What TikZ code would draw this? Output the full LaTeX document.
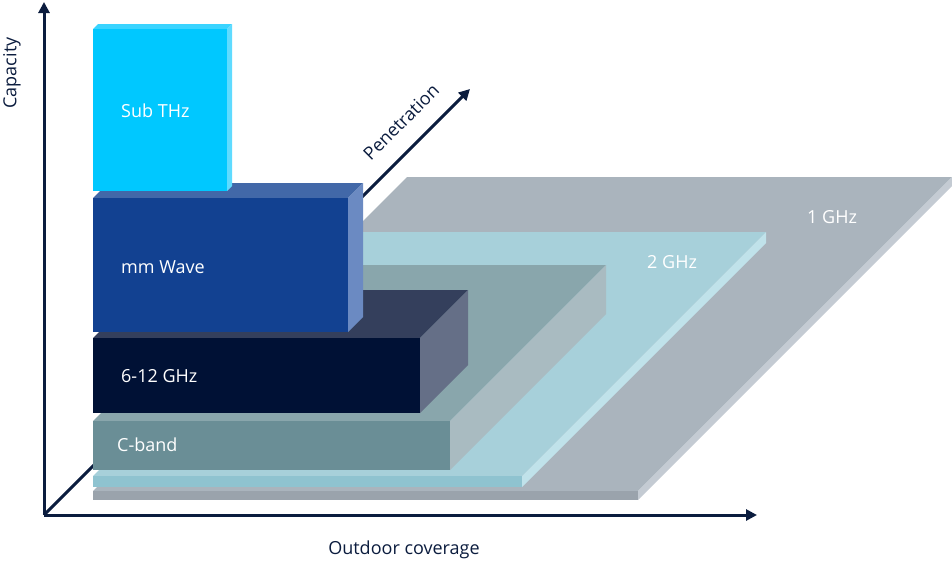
\documentclass[tikz,border=0pt]{standalone}
\usepackage{fontspec}
\setmainfont{Open Sans}
\usetikzlibrary{arrows.meta}
\definecolor{axiscol}{HTML}{0B1C3E}
\definecolor{gTop}{HTML}{AAB4BD}
\definecolor{gFront}{HTML}{9AA3AC}
\definecolor{gSide}{HTML}{C4CBD3}
\definecolor{tTop}{HTML}{A7D0DA}
\definecolor{tFront}{HTML}{8FC3D0}
\definecolor{tSide}{HTML}{C0E2EA}
\definecolor{cTop}{HTML}{89A6AC}
\definecolor{cFront}{HTML}{6A8E96}
\definecolor{cSide}{HTML}{A9BBC1}
\definecolor{sTop}{HTML}{343F5C}
\definecolor{sFront}{HTML}{001135}
\definecolor{sSide}{HTML}{656F87}
\definecolor{mTop}{HTML}{4268A8}
\definecolor{mFront}{HTML}{124191}
\definecolor{mSide}{HTML}{6B8AC2}
\definecolor{uTop}{HTML}{3AD4FF}
\definecolor{uFront}{HTML}{00C8FF}
\definecolor{uSide}{HTML}{5FDBFF}
% #1 left, #2 right, #3 front top, #4 front bottom, #5 depth, #6 top, #7 front, #8 side
\newcommand{\drawslab}[8]{%
  \fill[#6] (#1,#3) -- (#2,#3) -- ({#2+#5},{#3-#5}) -- ({#1+#5},{#3-#5}) -- cycle;
  \fill[#8] (#2,#3) -- ({#2+#5},{#3-#5}) -- ({#2+#5},{#4-#5}) -- (#2,#4) -- cycle;
  \fill[#7] (#1,#3) rectangle (#2,#4);
}
\tikzset{
  axisline/.style={line width=3pt, draw=axiscol, -{Triangle[length=11pt,width=11pt]}},
  axislabel/.style={text=axiscol, font=\fontsize{18}{21}\selectfont, inner sep=0pt},
  bandlabel/.style={text=white, font=\fontsize{18}{21}\selectfont, inner sep=0pt, anchor=west}
}
\begin{document}
\begin{tikzpicture}[x=1pt,y=-1pt]
\useasboundingbox (0,0) rectangle (952,563);
\coordinate (O) at (44,515);
\coordinate (ytip) at (44,2);
\coordinate (xtip) at (757,515);
\coordinate (ptip) at (470,89);
\draw[axisline] (O) -- (ptip);
\draw[axisline] (O) -- (ytip);
\draw[axisline] (O) -- (xtip);
% slabs
\drawslab{93}{638}{491}{500}{314}{gTop}{gFront}{gSide}
\drawslab{93}{522}{476}{487}{244}{tTop}{tFront}{tSide}
\drawslab{93}{450}{421}{470}{156}{cTop}{cFront}{cSide}
\drawslab{93}{420}{338}{413}{48}{sTop}{sFront}{sSide}
\drawslab{93}{348}{198}{332}{15}{mTop}{mFront}{mSide}
\drawslab{93}{227}{29}{191}{5}{uTop}{uFront}{uSide}
% labels
\node[bandlabel] (subthz) at (121,111) {Sub THz};
\node[bandlabel] (mmw) at (121,267) {mm Wave};
\node[bandlabel] (six) at (121,376) {6-12 GHz};
\node[bandlabel] (cband) at (117,445) {C-band};
\node[bandlabel] (two) at (647,262) {2 GHz};
\node[bandlabel] (one) at (807,217) {1 GHz};
\node[axislabel, rotate=90] (cap) at (12,73) {Capacity};
\node[axislabel] (outd) at (404,550) {Outdoor coverage};
\node[axislabel, rotate=45] (pen) at (401,122) {Penetration};
\end{tikzpicture}
\end{document}
